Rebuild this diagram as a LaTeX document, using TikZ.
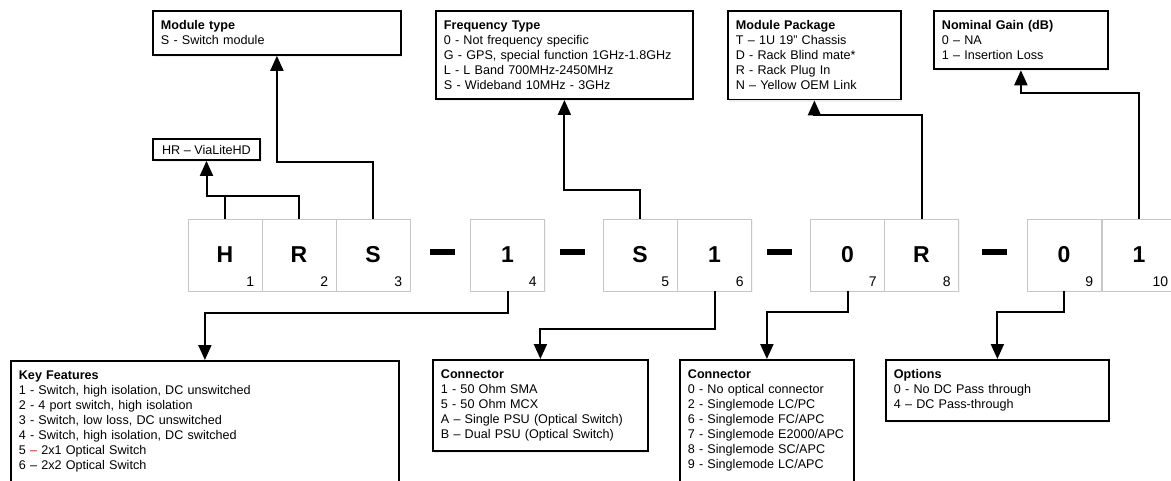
\documentclass[tikz,border=0pt]{standalone}
\usepackage{fontspec}
\setmainfont{Liberation Sans}
\usetikzlibrary{arrows.meta,shadows}

\newcommand*{\picw}{1171}
\newcommand*{\pich}{481}
\newcommand*{\celly}{255}

\begin{document}
\begin{tikzpicture}
[
	x=1pt, y=-1pt,
	cell/.style={rectangle,draw=black!22,line width=0.7pt,fill=white,minimum width=74pt,minimum height=72pt,inner sep=0pt,font=\fontsize{23}{23}\selectfont\bfseries,drop shadow={shadow xshift=1pt,shadow yshift=-1.5pt,fill=black!8}},
	cellnum/.style={anchor=south east,inner xsep=8pt,inner ysep=5pt,font=\fontsize{14}{14}\selectfont},
	bar/.style={rectangle,fill=black,minimum width=25pt,minimum height=6pt,inner sep=0pt},
	infobox/.style={rectangle,draw,line width=1.8pt,fill=white,anchor=north west,align=left,inner xsep=8pt,inner ysep=9.5pt,font=\fontsize{12.6}{15.1}\selectfont,drop shadow={shadow xshift=1.5pt,shadow yshift=-2pt,fill=black!12}},
	link/.style={line width=2pt},
	tip/.style={line width=2pt,-{Triangle[length=15pt,width=13pt]}}
]

	\useasboundingbox (0,0) rectangle (\picw,\pich);
	\clip (0,0) rectangle (\picw,\pich);

	% code cells
	\foreach \x/\ch/\n in {225/H/1,299/R/2,373/S/3,507.5/1/4,640/S/5,714.5/1/6,847.5/0/7,921.5/R/8,1064/0/9,1139/1/10}
	{
		\node[cell] (c\n) at (\x,\celly) {\ch};
		\node[cellnum] (n\n) at (c\n.south east) {\n};
	}

	% dashes
	\foreach \x [count=\i] in {442.5,572.5,779.5,994.5}
		\node[bar] (d\i) at (\x,252) {};

	% boxes above
	\node[infobox,text width=232pt,minimum height=44pt] (mtype) at (152,10) {\textbf{Module type}\\S - Switch module};
	\node[rectangle,draw,line width=1.8pt,fill=white,minimum width=107pt,minimum height=21pt,inner sep=0pt,font=\fontsize{12.6}{15.1}\selectfont,drop shadow={shadow xshift=1.5pt,shadow yshift=-2pt,fill=black!12}] (hr) at (206.5,149.5) {HR – ViaLiteHD};
	\node[infobox,text width=241pt] (freq) at (435,10) {\textbf{Frequency Type}\\0 - Not frequency specific\\G - GPS, special function 1GHz-1.8GHz\\L - L Band 700MHz-2450MHz\\S - Wideband 10MHz - 3GHz};
	\node[infobox,text width=157pt] (pkg) at (727,10) {\textbf{Module Package}\\T – 1U 19" Chassis\\D - Rack Blind mate*\\R - Rack Plug In\\N – Yellow OEM Link};
	\node[infobox,text width=158pt] (gain) at (933,10) {\textbf{Nominal Gain (dB)}\\0 – NA\\1 – Insertion Loss};

	% boxes below
	\node[infobox,text width=372pt,text depth=121pt] (keyfeat) at (10,360) {\textbf{Key Features}\\1 - Switch, high isolation, DC unswitched\\2 - 4 port switch, high isolation\\3 - Switch, low loss, DC unswitched\\4 - Switch, high isolation, DC switched\\5 \textcolor{red}{–} 2x1 Optical Switch\\6 – 2x2 Optical Switch};
	\node[infobox,text width=199pt] (conn1) at (432,359) {\textbf{Connector}\\1 - 50 Ohm SMA\\5 - 50 Ohm MCX\\A – Single PSU (Optical Switch)\\B – Dual PSU (Optical Switch)};
	\node[infobox,text width=158pt,text depth=121pt] (conn2) at (679,359) {\textbf{Connector}\\0 - No optical connector\\2 - Singlemode LC/PC\\6 - Singlemode FC/APC\\7 - Singlemode E2000/APC\\8 - Singlemode SC/APC\\9 - Singlemode LC/APC};
	\node[infobox,text width=207pt] (opts) at (885,359) {\textbf{Options}\\0 - No DC Pass through\\4 – DC Pass-through};

	% links up
	\draw[link] (c1.north) -- ++(0,-23);
	\draw[tip] (c2.north) -- ++(0,-23) -| (hr.south);
	\draw[tip] (c3.north) -- ++(0,-57) -| (mtype.south);
	\draw[tip] (c5.north) -- ++(0,-29) -| (freq.south);
	\draw[tip] (c8.north) -- ++(0,-104) -| (pkg.south);
	\draw[tip] (c10.north) -- ++(0,-126) -| (gain.south);

	% links down
	\draw[tip] (c4.south) -- ++(0,22) -| (keyfeat.north);
	\draw[tip] (c6.south) -- ++(0,38) -| (conn1.north);
	\draw[tip] (c7.south) -- ++(0,21) -| (conn2.north);
	\draw[tip] (c9.south) -- ++(0,21) -| (opts.north);

\end{tikzpicture}
\end{document}
